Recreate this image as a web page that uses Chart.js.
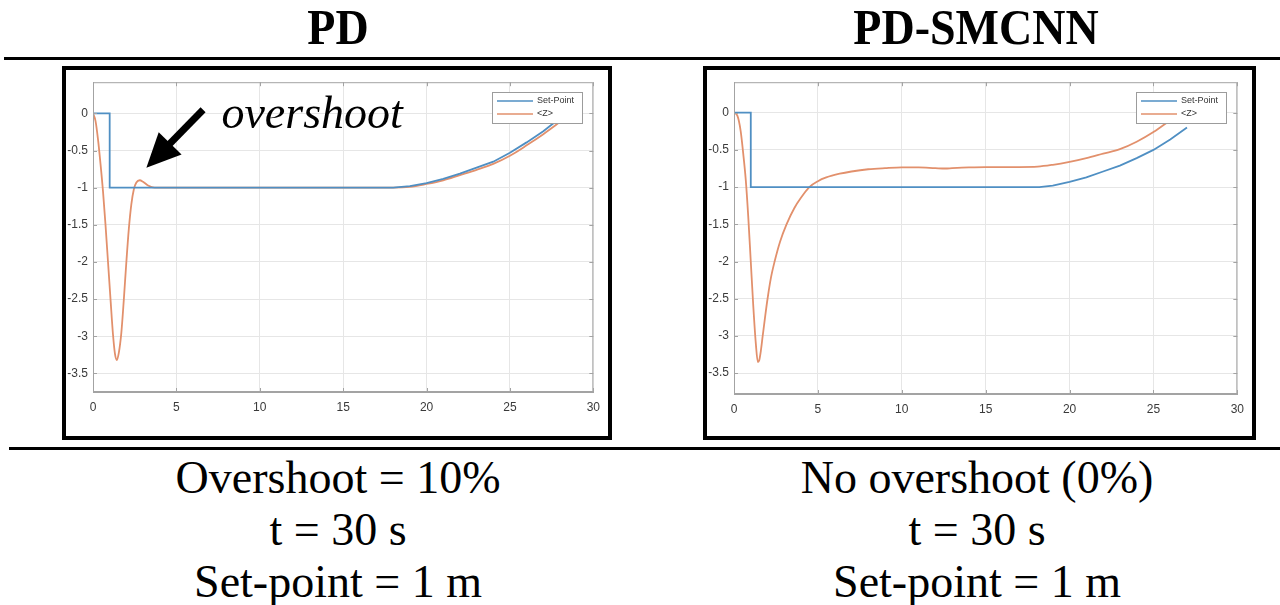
<!DOCTYPE html>
<html>
<head>
<meta charset="utf-8">
<script src="https://cdn.jsdelivr.net/npm/chart.js@4.4.1/dist/chart.umd.min.js"></script>
<style>
  body { margin: 0; background: #fff; }
  #page { position: relative; width: 1280px; height: 605px; overflow: hidden;
          font-family: "Liberation Serif", "Times New Roman", serif; color: #000; }
  .head { position: absolute; top: 4px; width: 600px; text-align: center;
          font-weight: bold; font-size: 46px; line-height: 50px;
          transform: scaleY(1.1); transform-origin: 50% 90%; }
  .rule { position: absolute; right: 0; height: 3px; background: #000; }
  .panel { position: absolute; top: 66px; height: 374px; border: 4px solid #000; box-sizing: border-box; }
  .panel canvas { position: absolute; left: 0; top: 0; }
  .note { position: absolute; top: 452px; width: 600px; text-align: center;
          font-size: 46px; line-height: 52px; }
</style>
</head>
<body>
<div id="page">
  <div class="head" style="left:38px">PD</div>
  <div class="head" style="left:676px">PD-SMCNN</div>
  <div class="rule" style="left:4px; top:57px"></div>

  <div class="panel" style="left:62px; width:550px"><canvas id="pdChart" width="542" height="366"></canvas></div>
  <div class="panel" style="left:703px; width:553px"><canvas id="smcChart" width="545" height="366"></canvas></div>

  <div class="rule" style="left:9px; top:447px"></div>
  <div class="note" style="left:38px">Overshoot = 10%<br>t = 30 s<br>Set-point = 1 m</div>
  <div class="note" style="left:677px">No overshoot (0%)<br>t = 30 s<br>Set-point = 1 m</div>
</div>

<script>
// axis ticks shared by both plots
const xTicks = [0, 5, 10, 15, 20, 25, 30];
const yTicks = [0, -0.5, -1, -1.5, -2, -2.5, -3, -3.5];

// PD controller run
const pdSetTime = [0, 1.0, 1.0, 18, 19, 20, 21, 22, 23, 24, 25, 26, 27, 27.8];
const pdSetZ    = [0, 0, -1, -1, -0.98, -0.94, -0.88, -0.81, -0.73, -0.65, -0.53, -0.39, -0.24, -0.1];
const pdTime = [0, 0.15, 0.3, 0.45, 0.6, 0.75, 0.9, 1.05, 1.2, 1.32, 1.43, 1.55, 1.7, 1.85, 2.0, 2.15,
                2.3, 2.45, 2.6, 2.8, 3.0, 3.3, 3.7, 4.2, 5, 10, 15, 18, 19, 20, 21, 22, 23, 24, 25, 26, 27, 28.1];
const pdZ    = [0, -0.1, -0.35, -0.68, -1.05, -1.5, -2.0, -2.5, -2.98, -3.24, -3.32, -3.22, -2.95, -2.5, -2.0, -1.55,
                -1.22, -1.02, -0.93, -0.9, -0.92, -0.97, -1.0, -1.0, -1.0, -1.0, -1.0, -1.0, -0.99, -0.95, -0.9, -0.83,
                -0.76, -0.68, -0.57, -0.43, -0.28, -0.1];

// PD-SMCNN controller run
const smcSetTime = [0, 1.0, 1.0, 18.2, 19, 20, 21, 22, 23, 24, 25, 26, 27];
const smcSetZ    = [0, 0, -1, -1, -0.98, -0.93, -0.87, -0.79, -0.71, -0.61, -0.5, -0.36, -0.2];
const smcTime = [0, 0.2, 0.4, 0.55, 0.7, 0.85, 1.0, 1.15, 1.3, 1.42, 1.5, 1.6, 1.71, 1.85, 2.0, 2.2, 2.42,
                 2.75, 3.13, 3.6, 4.0, 4.49, 5.0, 5.5, 6.3, 7.0, 8.0, 9, 10, 11, 12, 12.6, 13, 14, 15, 16, 17,
                 18.1, 19, 20, 21, 22, 23, 24, 25, 26];
const smcZ    = [0, -0.04, -0.25, -0.55, -0.9, -1.4, -2.0, -2.6, -3.1, -3.35, -3.33, -3.2, -3.0, -2.75, -2.5,
                 -2.22, -2.0, -1.73, -1.5, -1.28, -1.14, -1.0, -0.92, -0.87, -0.82, -0.79, -0.76, -0.745,
                 -0.735, -0.735, -0.745, -0.75, -0.745, -0.735, -0.73, -0.73, -0.73, -0.725, -0.7, -0.66,
                 -0.61, -0.55, -0.49, -0.39, -0.26, -0.1];

const seriesLabels = ['Set-Point', '<Z>'];
const BLUE = '#4f8fc3';
const ORANGE = '#e2906c';
const AXIS = '#a3a3a3';

const toPoints = (xs, ys) => xs.map((x, i) => ({ x: x, y: ys[i] }));

// box around the axes with short inward ticks on every side
const axesFrame = {
    id: 'axesFrame',
    afterDatasetsDraw(chart) {
        const { ctx, chartArea: a, scales } = chart;
        ctx.save();
        ctx.strokeStyle = AXIS;
        ctx.lineWidth = 1;
        ctx.strokeRect(a.left + 0.5, a.top + 0.5, a.right - a.left - 1, a.bottom - a.top - 1);
        ctx.beginPath();
        scales.x.ticks.forEach(t => {
            const px = Math.round(scales.x.getPixelForValue(t.value)) + 0.5;
            ctx.moveTo(px, a.bottom); ctx.lineTo(px, a.bottom - 4);
            ctx.moveTo(px, a.top); ctx.lineTo(px, a.top + 4);
        });
        scales.y.ticks.forEach(t => {
            const py = Math.round(scales.y.getPixelForValue(t.value)) + 0.5;
            ctx.moveTo(a.left, py); ctx.lineTo(a.left + 4, py);
            ctx.moveTo(a.right, py); ctx.lineTo(a.right - 4, py);
        });
        ctx.stroke();
        ctx.restore();
    }
};

// MATLAB style legend in the top right corner of the axes
const cornerLegend = {
    id: 'cornerLegend',
    afterDatasetsDraw(chart) {
        const { ctx, chartArea: a } = chart;
        const w = 90, h = 31;
        const x = Math.round(a.right - 11 - w), y = Math.round(a.top + 10);
        ctx.save();
        ctx.fillStyle = '#fff';
        ctx.fillRect(x, y, w, h);
        ctx.strokeStyle = '#9c9c9c';
        ctx.lineWidth = 1;
        ctx.strokeRect(x + 0.5, y + 0.5, w, h);
        ctx.font = '9px "Liberation Sans", Arial, sans-serif';
        ctx.textBaseline = 'middle';
        chart.data.datasets.forEach((ds, i) => {
            const ly = y + 9 + i * 13;
            ctx.strokeStyle = ds.borderColor;
            ctx.lineWidth = 1.6;
            ctx.beginPath();
            ctx.moveTo(x + 5, ly); ctx.lineTo(x + 41, ly);
            ctx.stroke();
            ctx.fillStyle = '#333';
            ctx.fillText(ds.label, x + 45, ly);
        });
        ctx.restore();
    }
};

// arrow and caption pointing at the PD overshoot
const overshootNote = {
    id: 'overshootNote',
    afterDraw(chart) {
        const { ctx, scales: { x, y } } = chart;
        const tip = { x: x.getPixelForValue(3.2), y: y.getPixelForValue(-0.73) };
        const tail = { x: x.getPixelForValue(6.6), y: y.getPixelForValue(0.05) };
        const dx = tip.x - tail.x, dy = tip.y - tail.y;
        const len = Math.hypot(dx, dy);
        const ux = dx / len, uy = dy / len;
        const headLen = 34, headHalf = 16;
        const bx = tip.x - ux * headLen, by = tip.y - uy * headLen;
        ctx.save();
        ctx.strokeStyle = '#000';
        ctx.fillStyle = '#000';
        ctx.lineWidth = 7;
        ctx.beginPath();
        ctx.moveTo(tail.x, tail.y);
        ctx.lineTo(bx + ux * 4, by + uy * 4);
        ctx.stroke();
        ctx.beginPath();
        ctx.moveTo(tip.x, tip.y);
        ctx.lineTo(bx - uy * headHalf, by + ux * headHalf);
        ctx.lineTo(bx + uy * headHalf, by - ux * headHalf);
        ctx.closePath();
        ctx.fill();
        ctx.font = 'italic 46px "Liberation Serif", "Times New Roman", serif';
        ctx.textBaseline = 'alphabetic';
        ctx.fillText('overshoot', x.getPixelForValue(7.7), y.getPixelForValue(-0.19));
        ctx.restore();
    }
};

function makeChart(id, setPts, zPts, yMin, yMax, pad, extra) {
    const tickFont = { family: '"Liberation Sans", Arial, sans-serif', size: 12 };
    return new Chart(document.getElementById(id), {
        type: 'scatter',
        data: {
            datasets: [{
                label: seriesLabels[0],
                data: setPts,
                showLine: true,
                borderColor: BLUE,
                borderWidth: 1.8,
                pointRadius: 0,
                tension: 0
            }, {
                label: seriesLabels[1],
                data: zPts,
                showLine: true,
                borderColor: ORANGE,
                borderWidth: 1.8,
                pointRadius: 0,
                cubicInterpolationMode: 'monotone'
            }]
        },
        options: {
            responsive: false,
            animation: false,
            layout: { padding: { top: pad.top, right: pad.right, left: 0, bottom: 0 } },
            plugins: { legend: { display: false }, tooltip: { enabled: false } },
            scales: {
                x: {
                    type: 'linear', min: 0, max: 30,
                    afterBuildTicks: s => { s.ticks = xTicks.map(v => ({ value: v })); },
                    afterFit: s => { s.height = pad.bottom; },
                    grid: { color: '#e6e6e6', drawTicks: false },
                    border: { color: AXIS },
                    ticks: { color: '#3a3a3a', font: tickFont, padding: 8, maxRotation: 0,
                             callback: v => String(v) }
                },
                y: {
                    type: 'linear', min: yMin, max: yMax,
                    afterBuildTicks: s => { s.ticks = yTicks.map(v => ({ value: v })); },
                    afterFit: s => { s.width = pad.left; },
                    grid: { color: '#e6e6e6', drawTicks: false },
                    border: { color: AXIS },
                    ticks: { color: '#3a3a3a', font: tickFont, padding: 5,
                             callback: v => String(v) }
                }
            }
        },
        plugins: [axesFrame, cornerLegend].concat(extra)
    });
}

makeChart('pdChart', toPoints(pdSetTime, pdSetZ), toPoints(pdTime, pdZ), -3.75, 0.42,
          { left: 27, top: 7, right: 12, bottom: 44 }, [overshootNote]);
makeChart('smcChart', toPoints(smcSetTime, smcSetZ), toPoints(smcTime, smcZ), -3.78, 0.41,
          { left: 27, top: 8, right: 10, bottom: 42 }, []);
</script>
</body>
</html>
